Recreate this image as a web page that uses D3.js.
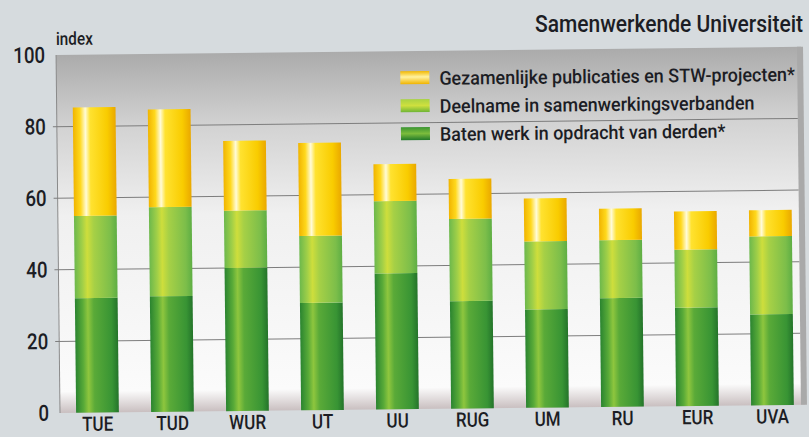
<!DOCTYPE html>
<html>
<head>
<meta charset="utf-8">
<script src="https://d3js.org/d3.v7.min.js"></script>
<style>
  body { margin: 0; background: #d6dbde; }
  svg { display: block; }
  text { font-family: "Roboto", "Liberation Sans", sans-serif; font-weight: 500; fill: #1c1d24; }
</style>
</head>
<body>
<div id="chart"></div>
<script>
// data (index values per segment, bottom to top)
var universities = ["TUE", "TUD", "WUR", "UT", "UU", "RUG", "UM", "RU", "EUR", "UVA"];
var baten      = [32, 32.3, 40, 30, 38, 30, 27.5, 30.4, 27.5, 25.4];
var deelname   = [23, 24.9, 16, 18.7, 20.2, 23, 19, 16.2, 16.2, 21.8];
var gezamenlijk = [30.3, 27.3, 19.5, 26, 10.3, 11.2, 12, 8.8, 10.7, 7.3];
var yTicks = [0, 20, 40, 60, 80, 100];
var seriesNames = [
    "Gezamenlijke publicaties en STW-projecten*",
    "Deelname in samenwerkingsverbanden",
    "Baten werk in opdracht van derden*"
];

var svgWidth = 809;
var svgHeight = 437;

var plot = { left: 60, right: 805, top: 55, bottom: 413 };

var svg = d3.select("#chart")
    .append("svg")
    .attr("width", svgWidth)
    .attr("height", svgHeight);

var defs = svg.append("defs");

// squeeze text horizontally to mimic the condensed magazine font
function condense(sel, factor) {
    sel.each(function() {
        var t = d3.select(this);
        var x = +t.attr("x") || 0;
        t.attr("transform", "translate(" + x + ",0) scale(" + factor + ",1) translate(" + (-x) + ",0)");
    });
}

// cylinder-like gradients
function barGradient(id, stops, vertical) {
    var g = defs.append("linearGradient")
        .attr("id", id)
        .attr("x1", "0").attr("y1", "0")
        .attr("x2", vertical ? "0" : "1").attr("y2", vertical ? "1" : "0");
    stops.forEach(function(s) {
        g.append("stop").attr("offset", s[0]).attr("stop-color", s[1]);
    });
}
var yellowStops = [["0%", "#f0b400"], ["16%", "#ffd81c"], ["29%", "#fffbd8"], ["40%", "#ffe230"], ["80%", "#f9cc00"], ["100%", "#eaa800"]];
var midStops = [["0%", "#6cb84c"], ["18%", "#a0cf48"], ["30%", "#cede3c"], ["46%", "#a6d046"], ["85%", "#7cbe4a"], ["100%", "#5eae44"]];
var darkStops = [["0%", "#2a8430"], ["18%", "#58aa38"], ["30%", "#8ec63e"], ["44%", "#5aaa38"], ["85%", "#389434"], ["100%", "#24742a"]];
barGradient("gYellow", yellowStops, false);
barGradient("gMid", midStops, false);
barGradient("gDark", darkStops, false);
barGradient("lYellow", [["0%", "#f2b800"], ["45%", "#fff2a0"], ["100%", "#f0b400"]], true);
barGradient("lMid", [["0%", "#a8d244"], ["50%", "#cfe03e"], ["100%", "#6fb536"]], true);
barGradient("lDark", [["0%", "#3a9432"], ["50%", "#7cbc3c"], ["100%", "#237a2a"]], true);

// plot background: grey at top fading to white
var bg = defs.append("linearGradient")
    .attr("id", "plotBg")
    .attr("x1", "0").attr("y1", "0").attr("x2", "0").attr("y2", "1");
bg.append("stop").attr("offset", "0%").attr("stop-color", "#ababab");
bg.append("stop").attr("offset", "20%").attr("stop-color", "#d2d2d2");
bg.append("stop").attr("offset", "45%").attr("stop-color", "#f0f0f0");
bg.append("stop").attr("offset", "94%").attr("stop-color", "#fbfbfb");
bg.append("stop").attr("offset", "100%").attr("stop-color", "#c9bfc0");

var colors = ["url(#gDark)", "url(#gMid)", "url(#gYellow)"];
var legendColors = ["url(#lYellow)", "url(#lMid)", "url(#lDark)"];

// title (not tilted)
var title = svg.append("text")
    .attr("x", 803)
    .attr("y", 32)
    .attr("text-anchor", "end")
    .attr("font-size", "24px")
    .text("Samenwerkende Universiteit");
condense(title, 268 / title.node().getComputedTextLength());

// the scan is slightly tilted
var chartGroup = svg.append("g")
    .attr("transform", "rotate(-0.63," + plot.left + "," + plot.bottom + ")");

var xScale = d3.scaleBand()
    .domain(universities)
    .range([plot.left, 810])
    .paddingInner(0.43)
    .paddingOuter(0.215);

var yScale = d3.scaleLinear()
    .domain([0, 100])
    .range([plot.bottom, plot.top]);

chartGroup.append("rect")
    .attr("x", plot.left)
    .attr("y", plot.top)
    .attr("width", plot.right - plot.left)
    .attr("height", plot.bottom - plot.top)
    .attr("fill", "url(#plotBg)");

chartGroup.append("line")
    .attr("x1", plot.left).attr("x2", plot.left)
    .attr("y1", plot.top).attr("y2", plot.bottom)
    .attr("stroke", "#8a8a8a")
    .attr("stroke-width", 1);

chartGroup.append("rect")
    .attr("x", plot.right - 4)
    .attr("y", plot.top)
    .attr("width", 6)
    .attr("height", plot.bottom - plot.top)
    .attr("fill", "#a9a9a9");

// gridlines
chartGroup.selectAll(".grid")
    .data(yTicks.filter(function(d) { return d > 0 && d < 100; }))
    .enter()
    .append("line")
    .attr("class", "grid")
    .attr("x1", plot.left - 4)
    .attr("x2", plot.right - 4)
    .attr("y1", function(d) { return yScale(d); })
    .attr("y2", function(d) { return yScale(d); })
    .attr("stroke", "#7d7d7d")
    .attr("stroke-width", 1);

// y axis labels
var yAxis = d3.axisLeft(yScale)
    .tickValues(yTicks)
    .tickSize(0)
    .tickPadding(11);
var yAxisG = chartGroup.append("g")
    .attr("transform", "translate(" + plot.left + ",0)")
    .call(yAxis);
yAxisG.select(".domain").remove();
yAxisG.selectAll("text")
    .attr("font-size", "22px")
    .attr("fill", "#1c1d24")
    .attr("font-family", null);
condense(yAxisG.selectAll("text"), 0.85);

var indexLabel = chartGroup.append("text")
    .attr("x", 60)
    .attr("y", 45)
    .attr("font-size", "18px")
    .text("index");
condense(indexLabel, 0.85);

// stacked bars
var rows = universities.map(function(u, i) {
    return { uni: u, baten: baten[i], deelname: deelname[i], gezamenlijk: gezamenlijk[i] };
});
var stack = d3.stack().keys(["baten", "deelname", "gezamenlijk"]);
var layers = stack(rows);

chartGroup.selectAll(".layer")
    .data(layers)
    .enter()
    .append("g")
    .attr("class", "layer")
    .attr("fill", function(d, i) { return colors[i]; })
    .selectAll("rect")
    .data(function(d) { return d; })
    .enter()
    .append("rect")
    .attr("x", function(d) { return xScale(d.data.uni); })
    .attr("y", function(d) { return yScale(d[1]); })
    .attr("width", xScale.bandwidth())
    .attr("height", function(d) { return yScale(d[0]) - yScale(d[1]); });

// x axis labels
var xAxis = d3.axisBottom(xScale).tickSize(0).tickPadding(4);
var xAxisG = chartGroup.append("g")
    .attr("transform", "translate(0," + plot.bottom + ")")
    .call(xAxis);
xAxisG.select(".domain").remove();
xAxisG.selectAll("text")
    .attr("font-size", "20px")
    .attr("fill", "#1c1d24")
    .attr("font-family", null);
condense(xAxisG.selectAll("text"), 0.85);

// legend
var legend = chartGroup.append("g")
    .attr("transform", "translate(404,76)");

legend.selectAll("rect")
    .data(seriesNames)
    .enter()
    .append("rect")
    .attr("x", 0)
    .attr("y", function(d, i) { return i * 28 - 1; })
    .attr("width", 29)
    .attr("height", 13)
    .attr("fill", function(d, i) { return legendColors[i]; });

var legendText = legend.selectAll("text")
    .data(seriesNames)
    .enter()
    .append("text")
    .attr("x", 39)
    .attr("y", function(d, i) { return i * 28 + 13; })
    .attr("font-size", "19px")
    .text(function(d) { return d; });
condense(legendText, 356 / legendText.node().getComputedTextLength());
</script>
</body>
</html>
